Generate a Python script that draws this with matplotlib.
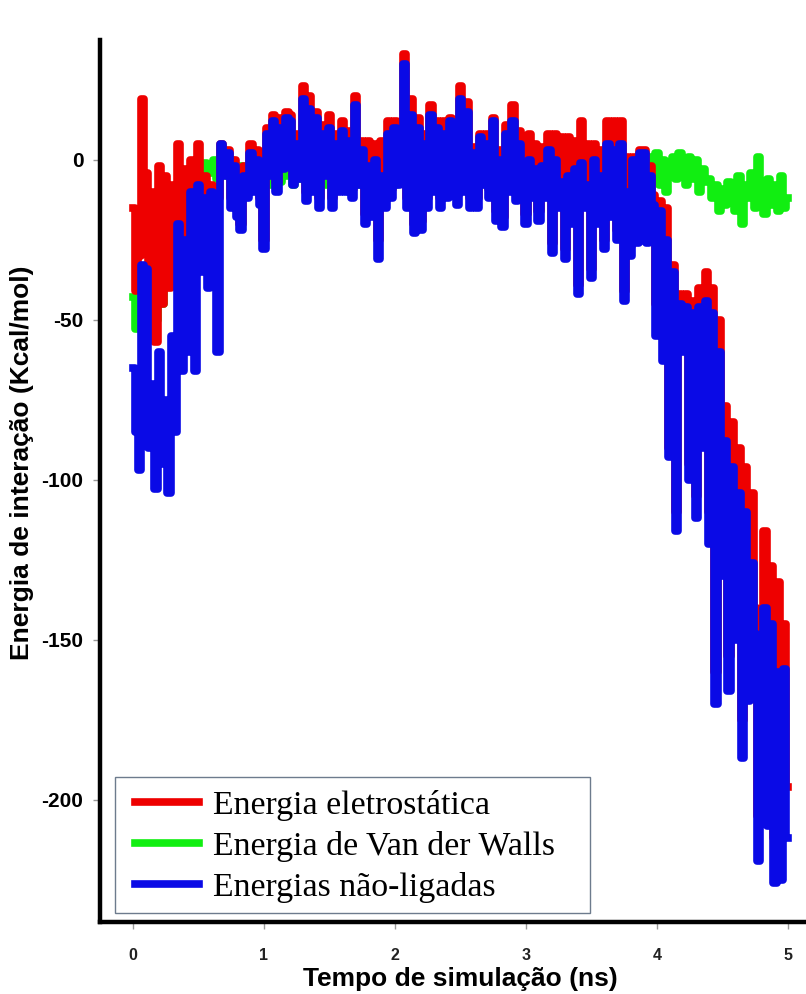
import numpy as np
import matplotlib.pyplot as plt
from matplotlib.patches import Rectangle

plt.rcParams['axes.unicode_minus'] = False

# --- dados: energias de interação ao longo de 5 ns ---
tempo = np.linspace(0, 5, 201)

eletrostatica = [
    -15, -41, -30, 19, -4, -40, -10, -57, -2, -45, -5, -40, -8, -35, 5, -30,
    -3, -25, 0, -30, 5, -20, -5, -25, -8, -15, -12, 5, -3, 3, -12, 0,
    -15, -20, -2, -9, 5, -8, 3, -12, -25, 10, -2, 14, -7, 13, 0, 15,
    14, -5, 8, -3, 23, -10, 20, -7, 15, -12, 11, -2, 14, -12, 8, -7,
    12, -7, 9, -9, 20, -5, 6, -17, 6, -10, 5, -25, 6, -8, 12, -9,
    12, -5, 8, 33, -12, 19, -20, 13, -19, 8, -12, 17, -7, 12, -12, 12,
    -9, 13, -2, -11, 23, -7, 18, -12, 4, -12, 8, -5, 8, -9, 13, -16,
    3, -18, 11, -7, 17, -10, 9, 3, -17, 8, -9, 5, -16, 4, -9, 8,
    -26, 8, -12, 7, -28, 7, -17, 6, -39, 12, -12, 5, -34, 5, -17, 3,
    -25, 12, -15, 12, -22, 12, -41, 1, -27, 1, -23, 3, 3, -23, -2, -11,
    -45, -13, -55, -15, -90, -33, -110, -42, -55, -42, -95, -44, -105, -40, -85, -35,
    -110, -40, -160, -50, -120, -77, -155, -82, -140, -90, -175, -96, -158, -104, -140, -205,
    -182, -116, -195, -127, -212, -132, -210, -145, -196,
]

van_der_walls = [
    -43, -53, -45, -50, -38, -53, -37, -50, -35, -45, -30, -35, -24, -30, -17, -22,
    -15, -10, -8, -5, -2, -8, -1, -3, -4, 0, -6, -1, -2, -5, 0, -4,
    -6, -2, -3, -7, -2, -5, -4, -1, -6, -3, -8, -2, -4, -7, -1, -5,
    -3, -8, -2, -6, -4, -1, -7, -3, -9, -2, -5, -8, -3, -6, -1, -4,
    -7, -2, -10, -3, -5, -8, -1, -6, -2, -7, -4, -9, -3, -6, -1, -5,
    -8, -2, -6, -3, -4, -9, -2, -7, -3, -5, -8, -1, -6, -3, -7, -2,
    -5, -8, -3, -6, -2, -7, -4, -9, -3, -6, -1, -5, -8, -2, -6, -4,
    -3, -7, -2, -5, -6, -1, -4, -8, -2, -5, -3, -7, -4, -1, -6, -3,
    -8, -2, -5, -4, -3, -7, -1, -6, -5, -9, -2, -4, -7, -3, -6, -1,
    -4, -8, -2, -5, -3, -6, -1, -4, -1, -6, 0, -4, -2, -7, 1, -5,
    2, -8, 0, -10, -3, 1, -6, 2, -4, -8, 1, -6, 0, -10, -3, -7,
    -6, -12, -8, -16, -9, -14, -7, -12, -16, -5, -20, -8, -12, -4, -15, 1,
    -10, -17, -6, -14, -8, -16, -5, -15, -12,
]

nao_ligadas = [
    -65, -85, -97, -33, -34, -90, -70, -103, -60, -95, -75, -104, -55, -85, -20, -66,
    -25, -60, -10, -66, -8, -35, -12, -40, -10, -38, -60, 5, -5, 2, -15, -2,
    -18, -22, -5, -12, 2, -10, 0, -14, -28, 8, -5, 12, -10, 10, -3, 13,
    12, -8, 5, -6, 19, -13, 16, -10, 13, -15, 8, -5, 10, -15, 5, -10,
    9, -10, 6, -12, 17, -8, 3, -20, -2, -18, 0, -31, -5, -15, 8, -12,
    10, -8, 5, 30, -15, 14, -23, 10, -22, 5, -15, 14, -10, 10, -15, 8,
    -12, 12, -5, -14, 19, -10, 15, -15, 2, -15, 7, -8, 5, -12, 12, -19,
    0, -21, 8, -10, 12, -13, 5, -1, -20, 0, -12, -3, -19, -2, -12, 3,
    -29, 0, -15, -7, -31, -5, -20, -3, -42, -1, -15, -8, -37, 0, -20, -5,
    -28, 5, -18, 3, -25, 5, -44, -10, -30, 0, -26, 2, 2, -26, -5, -14,
    -55, -16, -63, -25, -93, -35, -116, -45, -60, -46, -100, -48, -112, -46, -90, -44,
    -120, -48, -170, -60, -130, -88, -166, -96, -150, -104, -187, -110, -169, -126, -148, -219,
    -196, -140, -208, -145, -226, -160, -225, -159, -212,
]

rotulos = ['Energia eletrostática', 'Energia de Van der Walls', 'Energias não-ligadas']
cores = ['#ee0000', '#11ee11', '#0a0ae6']

# --- figura ---
fig = plt.figure(figsize=(8.06, 9.94), dpi=100)
ax = fig.add_axes([0.124, 0.0725, 0.876, 0.8875])

lw = 5.5
l_vdw, = ax.plot(tempo, van_der_walls, color=cores[1], lw=lw, drawstyle='steps-mid', zorder=1)
l_ele, = ax.plot(tempo, eletrostatica, color=cores[0], lw=lw, drawstyle='steps-mid', zorder=2)
l_nl, = ax.plot(tempo, nao_ligadas, color=cores[2], lw=lw, drawstyle='steps-mid', zorder=3)

ax.set_xlim(-0.252, 5.137)
ax.set_ylim(-238.1, 37.5)
ax.set_xticks([0, 1, 2, 3, 4, 5])
ax.set_yticks([0, -50, -100, -150, -200])

for lado in ['top', 'right']:
    ax.spines[lado].set_visible(False)
for lado in ['left', 'bottom']:
    ax.spines[lado].set_linewidth(3.2)
    ax.spines[lado].set_color('black')
    ax.spines[lado].set_zorder(6)

ax.tick_params(axis='both', direction='out', length=5, width=1, color='#999999')
ax.tick_params(axis='y', pad=7)
ax.tick_params(axis='x', pad=14)
for lab in ax.get_yticklabels():
    lab.set_fontfamily('Liberation Sans')
    lab.set_fontweight('bold')
    lab.set_fontsize(15)
for lab in ax.get_xticklabels():
    lab.set_fontfamily('Liberation Sans')
    lab.set_fontweight('bold')
    lab.set_fontsize(11.5)
    lab.set_color('#222222')

ax.set_xlabel('Tempo de simulação (ns)', fontfamily='Liberation Sans',
              fontweight='bold', fontsize=19)
ax.set_ylabel('Energia de interação (Kcal/mol)', fontfamily='Liberation Sans',
              fontweight='bold', fontsize=19)
ax.xaxis.set_label_coords(0.51, -0.051)
ax.yaxis.set_label_coords(-0.093, 0.52)

# caixa da legenda desenhada à parte
caixa = Rectangle((0.0212, 0.0102), 0.6728, 0.1542, transform=ax.transAxes,
                  facecolor='white', edgecolor='#6d7b8d', lw=1, zorder=4)
ax.add_patch(caixa)
leg = ax.legend([l_ele, l_vdw, l_nl], rotulos, loc='upper left',
                bbox_to_anchor=(0.0496, 0.150), borderaxespad=0, borderpad=0,
                prop={'family': 'Liberation Serif', 'size': 24.4},
                handlelength=1.9, handletextpad=0.4, labelspacing=0.3,
                frameon=False)
leg.set_zorder(5)
for h in leg.legend_handles:
    h.set_linewidth(5.5)

fig.savefig('out.png', dpi=100)
